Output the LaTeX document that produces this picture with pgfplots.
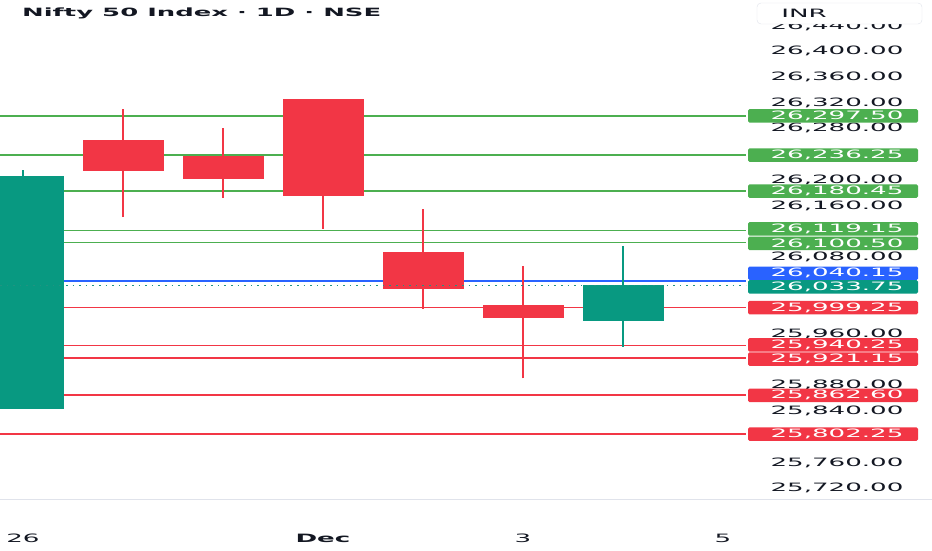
\documentclass[border=0pt]{standalone}
\usepackage{pgfplots}
\pgfplotsset{compat=1.18}
\usepackage{graphicx}
\usepackage{fontspec}
\setmainfont{DejaVu Sans}
\definecolor{tvgreen}{HTML}{4CAF50}
\definecolor{tvred}{HTML}{F23645}
\definecolor{tvblue}{HTML}{2962FF}
\definecolor{tvteal}{HTML}{089981}
\definecolor{tvtext}{HTML}{131722}
\definecolor{tvgrid}{HTML}{E0E3EB}
\newcommand\lab[1]{\scalebox{2.27}[1]{\fontsize{11.5}{12}\selectfont #1}}
\newcommand\blab[1]{\scalebox{2.27}[1]{\fontsize{11.5}{12}\selectfont\bfseries #1}}
\begin{document}
\begin{tikzpicture}
\useasboundingbox (0,0) rectangle (932pt,550pt);
\begin{axis}[
  at={(0pt,51pt)}, anchor=south west,
  scale only axis, width=746pt, height=499pt,
  xmin=-0.23, xmax=7.23, ymin=25701.3, ymax=26477.8,
  enlargelimits=false,
  clip mode=individual,
  axis line style={draw=none},
  tick style={draw=none},
  scaled y ticks=false,
  xtick={0,3,5,7},
  xticklabels={\lab{26},\blab{Dec},\lab{3},\lab{5}},
  xticklabel style={anchor=center, yshift=-39pt, text=tvtext},
  ytick={25720,25760,25840,25880,25960,26080,26160,26200,26280,26320,26360,26400,26440},
  yticklabels={\lab{25,720.00},\lab{25,760.00},\lab{25,840.00},\lab{25,880.00},\lab{25,960.00},\lab{26,080.00},\lab{26,160.00},\lab{26,200.00},\lab{26,280.00},\lab{26,320.00},\lab{26,360.00},\lab{26,400.00},\lab{26,440.00}},
  yticklabel pos=right,
  yticklabel style={anchor=center, xshift=91pt, yshift=-1.2pt, text=tvtext},
]
% horizontal levels
\addplot[tvgreen, line width=1.8pt] coordinates {(-0.23,26297.50) (7.23,26297.50)};
\addplot[tvgreen, line width=1.8pt] coordinates {(-0.23,26236.25) (7.23,26236.25)};
\addplot[tvgreen, line width=1.8pt] coordinates {(-0.23,26180.45) (7.23,26180.45)};
\addplot[tvgreen, line width=1.8pt] coordinates {(-0.23,26119.15) (7.23,26119.15)};
\addplot[tvgreen, line width=1.8pt] coordinates {(-0.23,26100.50) (7.23,26100.50)};
\addplot[tvblue, line width=1.8pt] coordinates {(-0.23,26040.15) (7.23,26040.15)};
\addplot[tvred, line width=1.8pt] coordinates {(-0.23,25999.25) (7.23,25999.25)};
\addplot[tvred, line width=1.8pt] coordinates {(-0.23,25940.25) (7.23,25940.25)};
\addplot[tvred, line width=1.8pt] coordinates {(-0.23,25921.15) (7.23,25921.15)};
\addplot[tvred, line width=1.8pt] coordinates {(-0.23,25862.60) (7.23,25862.60)};
\addplot[tvred, line width=1.8pt] coordinates {(-0.23,25802.25) (7.23,25802.25)};
% candles: wick (low-high), body (open-close)
% Nov 26: O 25842 H 26213 L 25842 C 26204
\addplot[tvteal, line width=2pt] coordinates {(0,25842) (0,26213)};
\addplot[tvteal, fill=tvteal, line width=0.5pt] coordinates {(-0.4,25842) (0.4,25842) (0.4,26204) (-0.4,26204)} -- cycle;
% Nov 27: O 26259 H 26308 L 26140 C 26213
\addplot[tvred, line width=2pt] coordinates {(1,26140) (1,26308)};
\addplot[tvred, fill=tvred, line width=0.5pt] coordinates {(0.6,26259) (1.4,26259) (1.4,26213) (0.6,26213)} -- cycle;
% Nov 28: O 26234 H 26278 L 26170 C 26200
\addplot[tvred, line width=2pt] coordinates {(2,26170) (2,26278)};
\addplot[tvred, fill=tvred, line width=0.5pt] coordinates {(1.6,26234) (2.4,26234) (2.4,26200) (1.6,26200)} -- cycle;
% Dec 1: O 26323 H 26323 L 26122 C 26174
\addplot[tvred, line width=2pt] coordinates {(3,26122) (3,26323)};
\addplot[tvred, fill=tvred, line width=0.5pt] coordinates {(2.6,26323) (3.4,26323) (3.4,26174) (2.6,26174)} -- cycle;
% Dec 2: O 26086 H 26152 L 25997 C 26030
\addplot[tvred, line width=2pt] coordinates {(4,25997) (4,26152)};
\addplot[tvred, fill=tvred, line width=0.5pt] coordinates {(3.6,26086) (4.4,26086) (4.4,26030) (3.6,26030)} -- cycle;
% Dec 3: O 26003 H 26064 L 25889 C 25984
\addplot[tvred, line width=2pt] coordinates {(5,25889) (5,26064)};
\addplot[tvred, fill=tvred, line width=0.5pt] coordinates {(4.6,26003) (5.4,26003) (5.4,25984) (4.6,25984)} -- cycle;
% Dec 4: O 25979 H 26095 L 25938 C 26033.75
\addplot[tvteal, line width=2pt] coordinates {(6,25938) (6,26095)};
\addplot[tvteal, fill=tvteal, line width=0.5pt] coordinates {(5.6,25979) (6.4,25979) (6.4,26033.75) (5.6,26033.75)} -- cycle;
% last close dotted
\addplot[tvteal!80!gray, line width=1.6pt, dash pattern=on 1.6pt off 5pt] coordinates {(-0.23,26033.75) (7.23,26033.75)};
% price labels
\node[fill=tvgreen,minimum width=170pt,minimum height=13.5pt,inner sep=0pt,rounded corners=1.5pt] at (axis cs:8.10,26297.50) {};
\node[text=white,inner sep=0pt] at (axis cs:8.14,26297.50) {\lab{26,297.50}};
\node[fill=tvgreen,minimum width=170pt,minimum height=13.5pt,inner sep=0pt,rounded corners=1.5pt] at (axis cs:8.10,26236.25) {};
\node[text=white,inner sep=0pt] at (axis cs:8.14,26236.25) {\lab{26,236.25}};
\node[fill=tvgreen,minimum width=170pt,minimum height=13.5pt,inner sep=0pt,rounded corners=1.5pt] at (axis cs:8.10,26180.45) {};
\node[text=white,inner sep=0pt] at (axis cs:8.14,26180.45) {\lab{26,180.45}};
\node[fill=tvgreen,minimum width=170pt,minimum height=13.5pt,inner sep=0pt,rounded corners=1.5pt,yshift=1.5pt] at (axis cs:8.10,26119.15) {};
\node[text=white,inner sep=0pt,yshift=1.5pt] at (axis cs:8.14,26119.15) {\lab{26,119.15}};
\node[fill=tvgreen,minimum width=170pt,minimum height=13.5pt,inner sep=0pt,rounded corners=1.5pt,yshift=-1pt] at (axis cs:8.10,26100.50) {};
\node[text=white,inner sep=0pt,yshift=-1pt] at (axis cs:8.14,26100.50) {\lab{26,100.50}};
\node[fill=tvblue,minimum width=170pt,minimum height=13.5pt,inner sep=0pt,rounded corners=1.5pt,yshift=8pt] at (axis cs:8.10,26040.15) {};
\node[text=white,inner sep=0pt,yshift=8pt] at (axis cs:8.14,26040.15) {\lab{26,040.15}};
\node[fill=tvteal,minimum width=170pt,minimum height=13.5pt,inner sep=0pt,rounded corners=1.5pt,yshift=-1.5pt] at (axis cs:8.10,26033.75) {};
\node[text=white,inner sep=0pt,yshift=-1.5pt] at (axis cs:8.14,26033.75) {\lab{26,033.75}};
\node[fill=tvred,minimum width=170pt,minimum height=13.5pt,inner sep=0pt,rounded corners=1.5pt] at (axis cs:8.10,25999.25) {};
\node[text=white,inner sep=0pt] at (axis cs:8.14,25999.25) {\lab{25,999.25}};
\node[fill=tvred,minimum width=170pt,minimum height=13.5pt,inner sep=0pt,rounded corners=1.5pt,yshift=0.5pt] at (axis cs:8.10,25940.25) {};
\node[text=white,inner sep=0pt,yshift=0.5pt] at (axis cs:8.14,25940.25) {\lab{25,940.25}};
\node[fill=tvred,minimum width=170pt,minimum height=13.5pt,inner sep=0pt,rounded corners=1.5pt,yshift=-1.5pt] at (axis cs:8.10,25921.15) {};
\node[text=white,inner sep=0pt,yshift=-1.5pt] at (axis cs:8.14,25921.15) {\lab{25,921.15}};
\node[fill=tvred,minimum width=170pt,minimum height=13.5pt,inner sep=0pt,rounded corners=1.5pt] at (axis cs:8.10,25862.60) {};
\node[text=white,inner sep=0pt] at (axis cs:8.14,25862.60) {\lab{25,862.60}};
\node[fill=tvred,minimum width=170pt,minimum height=13.5pt,inner sep=0pt,rounded corners=1.5pt] at (axis cs:8.10,25802.25) {};
\node[text=white,inner sep=0pt] at (axis cs:8.14,25802.25) {\lab{25,802.25}};
\end{axis}
\draw[tvgrid, line width=1pt] (0,51pt) -- (932pt,51pt);
\node[anchor=west, inner sep=0pt, text=tvtext] at (22pt,536.5pt) {\scalebox{2.27}[1]{\fontsize{11.4}{12}\selectfont\bfseries Nifty 50 Index · 1D · NSE}};
\draw[tvgrid, fill=white, rounded corners=4pt] (757pt,526pt) rectangle (922pt,547pt);
\node[text=tvtext, inner sep=0pt] at (804pt,536.5pt) {\lab{INR}};
\end{tikzpicture}
\end{document}
